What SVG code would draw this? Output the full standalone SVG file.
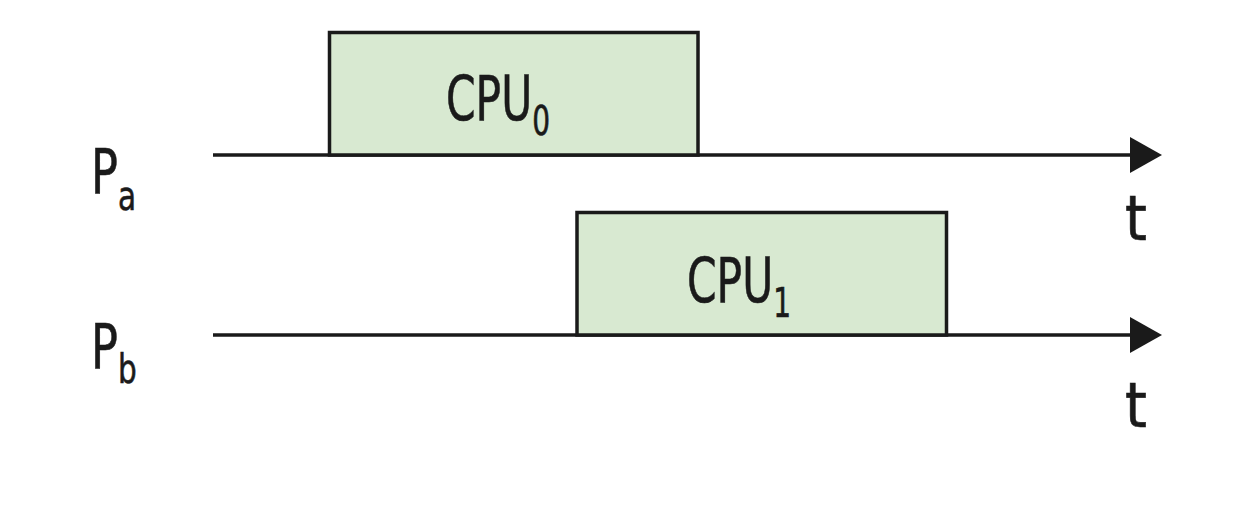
<svg xmlns="http://www.w3.org/2000/svg" width="1260" height="512" viewBox="0 0 1260 512">
<defs>
<style>
.box{fill:#d8e9d1;stroke:#1a1a1a;stroke-width:3.5}
.axis{stroke:#1a1a1a;stroke-width:3.5;fill:none}
.head{fill:#1a1a1a}
.lbl{font-family:"Liberation Sans Narrow","DejaVu Sans Condensed",sans-serif;fill:#1a1a1a;stroke:#1a1a1a;stroke-width:0.6}
.big{font-size:62px}
.sub{font-size:41px}
</style>
</defs>
<rect width="1260" height="512" fill="#ffffff"/>
<g id="connectors">
<line class="axis" x1="213" y1="155" x2="1132" y2="155"/>
<polygon class="head" points="1130,137 1162,155 1130,173"/>
<line class="axis" x1="213" y1="335" x2="1132" y2="335"/>
<polygon class="head" points="1130,317 1162,335 1130,353"/>
</g>
<g id="cpu0">
<rect class="box" x="329.5" y="32.5" width="368.5" height="122.5"/>
<text class="lbl" transform="translate(446,120) scale(0.76,1)"><tspan class="big">CPU</tspan><tspan class="sub" dy="15">0</tspan></text>
</g>
<g id="cpu1">
<rect class="box" x="577" y="212.5" width="369.5" height="122.5"/>
<text class="lbl" transform="translate(687,302) scale(0.76,1)"><tspan class="big">CPU</tspan><tspan class="sub" dy="15">1</tspan></text>
</g>
<g id="pa">
<text class="lbl" transform="translate(91,193) scale(0.8,1)"><tspan class="big">P</tspan><tspan class="sub" dy="17">a</tspan></text>
</g>
<g id="pb">
<text class="lbl" transform="translate(91,368) scale(0.8,1)"><tspan class="big">P</tspan><tspan class="sub" dy="15">b</tspan></text>
</g>
<g id="t1"><text class="lbl big" x="1125" y="240">t</text></g>
<g id="t2"><text class="lbl big" x="1125" y="427">t</text></g>
</svg>
